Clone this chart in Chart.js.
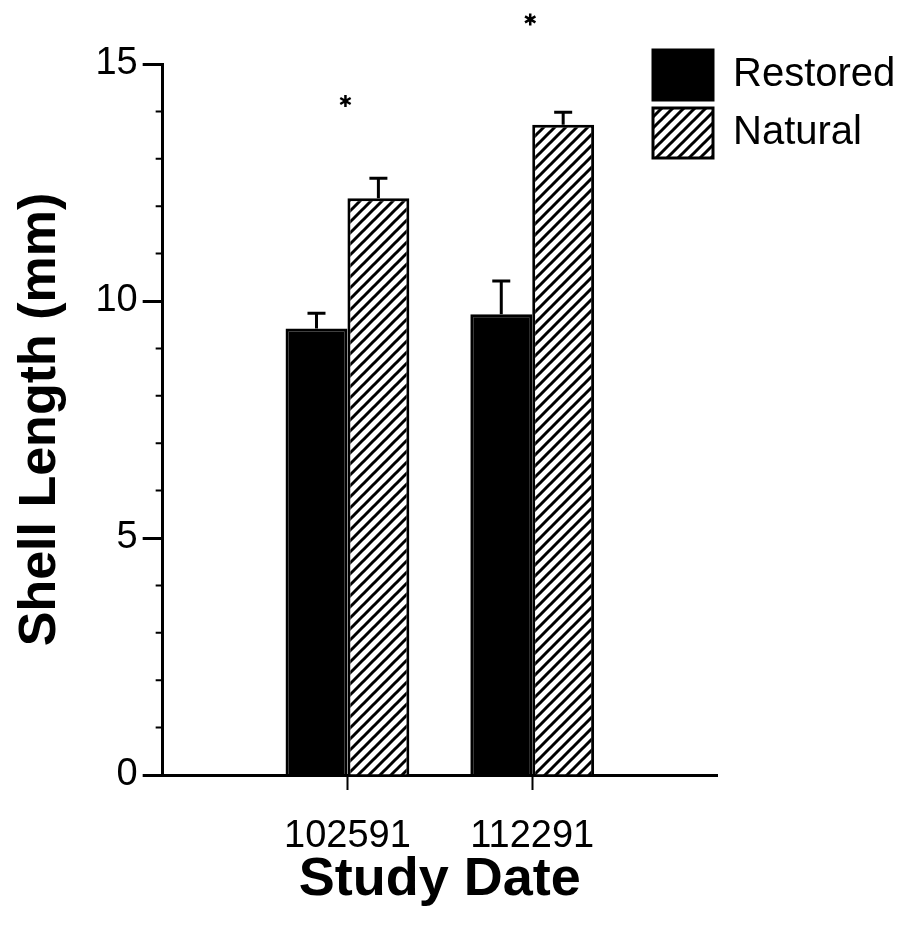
<!DOCTYPE html>
<html>
<head>
<meta charset="utf-8">
<script src="https://cdn.jsdelivr.net/npm/chart.js@4.4.1/dist/chart.umd.min.js"></script>
<style>
  html, body { margin: 0; padding: 0; background: #fff; }
  #wrap { width: 908px; height: 931px; }
  canvas { display: block; }
</style>
</head>
<body>
<div id="wrap"><canvas id="chart" width="908" height="931"></canvas></div>
<script>
// blank slots at both ends keep the axis longer than the bar groups
const dates = ['', '102591', '112291', ''];
const restored = [null, 9.42, 9.72, null];
const natural = [null, 12.17, 13.72, null];
const restoredErr = [null, 0.32, 0.70, null];
const naturalErr = [null, 0.42, 0.26, null];
const signif = [null, 14.22, 15.94, null];   // asterisks
const minorTicks = [1, 2, 3, 4, 6, 7, 8, 9, 11, 12, 13, 14];

const FONT = "'Liberation Sans', Arial, Helvetica, sans-serif";
const canvas = document.getElementById('chart');

// diagonal hatch for the "Natural" bars
function hatch() {
    const p = 11;
    const c = document.createElement('canvas');
    c.width = p; c.height = p;
    const g = c.getContext('2d');
    g.fillStyle = '#fff';
    g.fillRect(0, 0, p, p);
    g.strokeStyle = '#000';
    g.lineWidth = 3;
    g.beginPath();
    g.moveTo(0, p); g.lineTo(p, 0);
    g.moveTo(-p / 2, p / 2); g.lineTo(p / 2, -p / 2);
    g.moveTo(p / 2, p * 1.5); g.lineTo(p * 1.5, p / 2);
    g.stroke();
    return canvas.getContext('2d').createPattern(c, 'repeat');
}

const errorBars = {
    id: 'errorBars',
    afterDatasetsDraw(chart) {
        const ctx = chart.ctx, y = chart.scales.y;
        ctx.save();
        ctx.strokeStyle = '#000';
        ctx.lineWidth = 3;
        [restoredErr, naturalErr].forEach((errs, d) => {
            chart.getDatasetMeta(d).data.forEach((bar, i) => {
                if (errs[i] == null) return;
                const val = chart.data.datasets[d].data[i];
                const top = y.getPixelForValue(val + errs[i]);
                ctx.beginPath();
                ctx.moveTo(bar.x, bar.y);
                ctx.lineTo(bar.x, top);
                ctx.moveTo(bar.x - 9, top);
                ctx.lineTo(bar.x + 9, top);
                ctx.stroke();
            });
        });
        // significance asterisks over each date
        ctx.lineWidth = 2.5;
        signif.forEach((v, i) => {
            if (v == null) return;
            const cx = chart.scales.x.getPixelForValue(i) - 2;
            const cy = y.getPixelForValue(v);
            ctx.beginPath();
            for (let k = 0; k < 3; k++) {
                const a = Math.PI / 2 + k * Math.PI / 3;
                ctx.moveTo(cx - 6 * Math.cos(a), cy - 6 * Math.sin(a));
                ctx.lineTo(cx + 6 * Math.cos(a), cy + 6 * Math.sin(a));
            }
            ctx.stroke();
        });
        ctx.restore();
    }
};

// short unlabelled ticks on the y axis
const minorY = {
    id: 'minorY',
    afterDraw(chart) {
        const ctx = chart.ctx, y = chart.scales.y, x0 = chart.chartArea.left;
        ctx.save();
        ctx.strokeStyle = '#000';
        ctx.lineWidth = 2;
        ctx.beginPath();
        minorTicks.forEach(v => {
            const py = y.getPixelForValue(v);
            ctx.moveTo(x0 - 7, py);
            ctx.lineTo(x0, py);
        });
        ctx.stroke();
        ctx.restore();
    }
};

// put the legend in the top right corner, overlapping the plot
const legendSpot = {
    id: 'legendSpot',
    afterLayout(chart) {
        const lg = chart.legend, a = chart.chartArea;
        lg.left = a.right - 72;
        lg.top = a.top - 22;
        lg.right = chart.width;
        lg.bottom = a.top + 140;
    }
};

new Chart(canvas, {
    type: 'bar',
    data: {
        labels: dates,
        datasets: [
            {
                label: 'Restored',
                data: restored,
                backgroundColor: '#000',
                borderColor: '#000',
                borderWidth: 3,
                barPercentage: 1,
                categoryPercentage: 0.67
            },
            {
                label: 'Natural',
                data: natural,
                backgroundColor: hatch(),
                borderColor: '#000',
                borderWidth: 3,
                barPercentage: 1,
                categoryPercentage: 0.67
            }
        ]
    },
    options: {
        responsive: false,
        animation: false,
        events: [],
        layout: { padding: { top: 64, right: 191, left: 0, bottom: 0 } },
        plugins: {
            tooltip: { enabled: false },
            legend: {
                position: 'chartArea',
                fullSize: false,
                align: 'start',
                labels: {
                    color: '#000',
                    boxWidth: 60,
                    boxHeight: 50,
                    padding: 8,
                    font: { family: FONT, size: 40 }
                }
            }
        },
        scales: {
            x: {
                offset: false,
                grid: {
                    offset: false,
                    drawOnChartArea: false,
                    tickLength: 15,
                    tickWidth: 2,
                    tickColor: c => dates[c.index] ? '#000' : 'rgba(0,0,0,0)'
                },
                border: { color: '#000', width: 3 },
                ticks: {
                    color: '#000',
                    autoSkip: false,
                    maxRotation: 0,
                    padding: 28,
                    font: { family: FONT, size: 38, lineHeight: 1 }
                },
                title: {
                    display: true,
                    text: 'Study Date',
                    color: '#000',
                    font: { family: FONT, size: 54, weight: 'bold', lineHeight: 1 },
                    padding: { top: -31, bottom: 24 }
                }
            },
            y: {
                min: 0,
                max: 15,
                ticks: {
                    stepSize: 5,
                    color: '#000',
                    padding: 5,
                    font: { family: FONT, size: 38 }
                },
                grid: {
                    drawOnChartArea: false,
                    tickLength: 20,
                    tickWidth: 3,
                    tickColor: '#000'
                },
                border: { color: '#000', width: 3 },
                title: {
                    display: true,
                    text: 'Shell Length (mm)',
                    color: '#000',
                    font: { family: FONT, size: 52, weight: 'bold', lineHeight: 1.2 },
                    padding: { top: 9, bottom: 19 }
                }
            }
        }
    },
    plugins: [errorBars, minorY, legendSpot]
});
</script>
</body>
</html>
